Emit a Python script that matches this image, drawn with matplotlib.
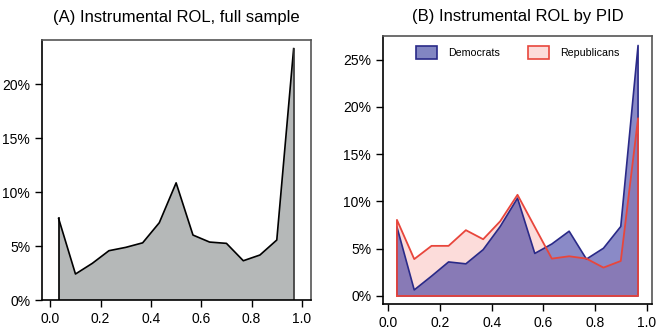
# two panel area chart of instrumental ROL shares
import matplotlib
matplotlib.use("Agg")
import matplotlib.pyplot as plt
from matplotlib.ticker import FuncFormatter
from matplotlib.patches import Patch

plt.rcParams['font.family'] = ['Liberation Sans', 'DejaVu Sans']

bins = [0.033, 0.1, 0.167, 0.233, 0.3, 0.367, 0.433, 0.5, 0.567,
        0.633, 0.7, 0.767, 0.833, 0.9, 0.967]
full_sample = [0.0756, 0.0241, 0.034, 0.0457, 0.0488, 0.053, 0.0716, 0.1086,
               0.0602, 0.0537, 0.0525, 0.0364, 0.0417, 0.0556, 0.233]
democrats = [0.073, 0.0064, 0.021, 0.036, 0.034, 0.049, 0.0735, 0.1035,
             0.045, 0.055, 0.0685, 0.039, 0.0505, 0.0735, 0.265]
republicans = [0.0805, 0.039, 0.053, 0.053, 0.0696, 0.06, 0.079, 0.107,
               0.073, 0.0395, 0.042, 0.0395, 0.030, 0.037, 0.188]

pct = FuncFormatter(lambda v, p: "%d%%" % round(v * 100))


def closed(xs, ys):
    # polygon down to the baseline like R's polygon()
    return [xs[0]] + list(xs) + [xs[-1], xs[0]], [0] + list(ys) + [0, 0]


def style(ax):
    ax.tick_params(direction="out", length=5, width=1, labelsize=10, colors="black")
    for s in ax.spines.values():
        s.set_linewidth(1.2)
    ax.spines["top"].set_color("#555555")
    ax.spines["right"].set_color("#555555")
    ax.yaxis.set_major_formatter(pct)
    ax.set_xticks([0, 0.2, 0.4, 0.6, 0.8, 1.0])
    ax.xaxis.set_major_formatter(FuncFormatter(lambda v, p: "%.1f" % v))


fig = plt.figure(figsize=(6.57, 3.31), dpi=100)

# panel A
ax1 = fig.add_axes([42 / 657, 31 / 331, 269 / 657, 260 / 331])
px, py = closed(bins, full_sample)
ax1.fill(px, py, color="#b5b8b8", lw=0)
ax1.plot(bins, full_sample, color="black", lw=1.2)
ax1.plot([bins[0], bins[0]], [0, full_sample[0]], color="black", lw=1.2)
ax1.plot([bins[-1], bins[-1]], [0, full_sample[-1]], color="#333333", lw=1.2)
ax1.set_xlim(-0.033, 1.036)
ax1.set_ylim(0, 0.241)
ax1.set_yticks([0, 0.05, 0.10, 0.15, 0.20])
style(ax1)
ax1.set_title("(A) Instrumental ROL, full sample", fontsize=12, pad=13)

# panel B
ax2 = fig.add_axes([383 / 657, 27 / 331, 269 / 657, 268 / 331])
rx, ry = closed(bins, republicans)
dx, dy = closed(bins, democrats)
ax2.fill(rx, ry, color="#fcdcda", lw=0)
ax2.fill(dx, dy, color="#2a2a99", alpha=0.55, lw=0)
ax2.plot(dx, dy, color="#2a2a88", lw=1.2)
ax2.plot(rx, ry, color="#e8463c", lw=1.3)
ax2.set_xlim(-0.021, 1.021)
ax2.set_ylim(-0.0085, 0.275)
ax2.set_yticks([0, 0.05, 0.10, 0.15, 0.20, 0.25])
style(ax2)
ax2.set_title("(B) Instrumental ROL by PID", fontsize=12, pad=11)

handles = [Patch(facecolor="#8286c2", edgecolor="#2a2a88", lw=1.2, label="Democrats"),
           Patch(facecolor="#fcdcda", edgecolor="#e8463c", lw=1.2, label="Republicans")]
ax2.legend(handles=handles, loc="upper center", ncol=2, frameon=False, fontsize=7.7,
           handlelength=2.0, handleheight=1.6, columnspacing=2.6, handletextpad=1.0,
           bbox_to_anchor=(0.5, 1.0))

fig.savefig("out.png", dpi=100)
